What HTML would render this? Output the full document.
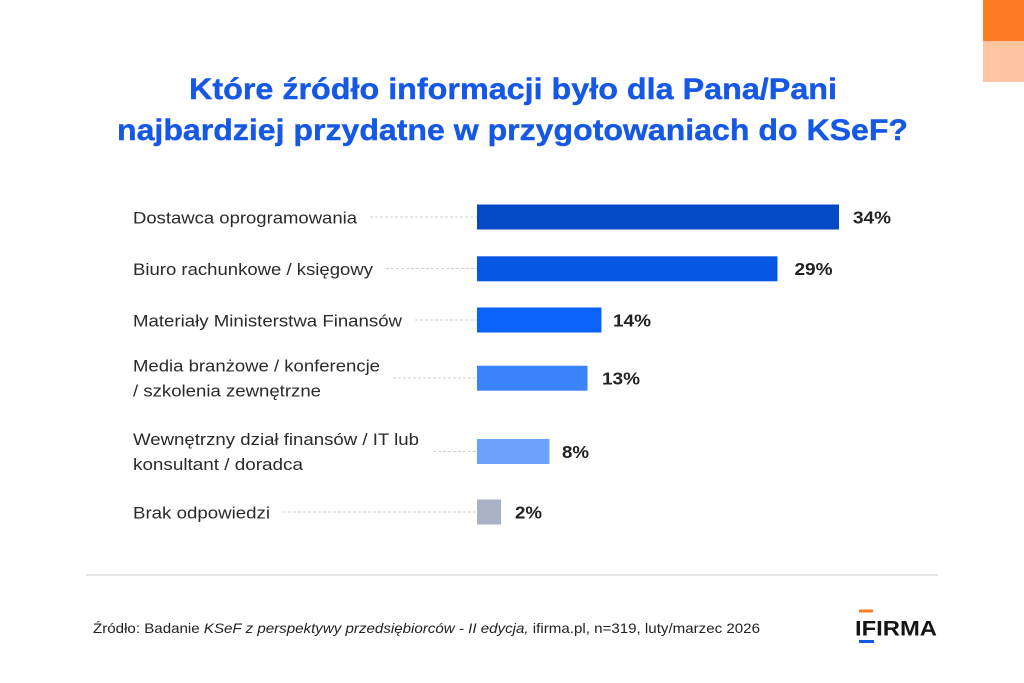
<!DOCTYPE html>
<html>
<head>
<meta charset="utf-8">
<style>
  html, body { margin:0; padding:0; background:#ffffff; }
  svg { display:block; }
  .lbl { font-family:"Liberation Sans","DejaVu Sans",sans-serif; font-size:16.8px; fill:#2a2a2a; }
  .val { font-family:"Liberation Sans","DejaVu Sans",sans-serif; font-size:17.5px; font-weight:bold; fill:#222; }
  .ttl { font-family:"Liberation Sans","DejaVu Sans",sans-serif; font-size:29.5px; font-weight:bold; fill:#1658e6; stroke:#1658e6; stroke-width:0.4; }
  .ftr { font-family:"Liberation Sans","DejaVu Sans",sans-serif; font-size:14px; fill:#222; }
  .dot { stroke:#d0d0d0; stroke-width:1; stroke-dasharray:3 2; }
</style>
</head>
<body>
<svg width="1024" height="683" viewBox="0 0 1024 683" xmlns="http://www.w3.org/2000/svg">
  <rect x="0" y="0" width="1024" height="683" fill="#ffffff"/>

  <!-- corner accents -->
  <rect x="983" y="0" width="41" height="41" fill="#ff7b26"/>
  <rect x="983" y="41" width="41" height="41" fill="#ffc4a0"/>

  <!-- title -->
  <text class="ttl" x="189" y="99" textLength="648" lengthAdjust="spacingAndGlyphs">Które źródło informacji było dla Pana/Pani</text>
  <text class="ttl" x="117" y="140" textLength="791" lengthAdjust="spacingAndGlyphs">najbardziej przydatne w przygotowaniach do KSeF?</text>

  <!-- row 1 -->
  <text class="lbl" x="133" y="223.5" textLength="224" lengthAdjust="spacingAndGlyphs">Dostawca oprogramowania</text>
  <line class="dot" x1="370" y1="217" x2="477" y2="217"/>
  <rect x="477" y="204.5" width="362" height="25" fill="#0449c5"/>
  <text class="val" x="853" y="223.5" textLength="38" lengthAdjust="spacingAndGlyphs">34%</text>

  <!-- row 2 -->
  <text class="lbl" x="133" y="275" textLength="240" lengthAdjust="spacingAndGlyphs">Biuro rachunkowe / księgowy</text>
  <line class="dot" x1="386" y1="268.5" x2="477" y2="268.5"/>
  <rect x="477" y="256.3" width="300.5" height="25" fill="#0557e3"/>
  <text class="val" x="794.5" y="275" textLength="38" lengthAdjust="spacingAndGlyphs">29%</text>

  <!-- row 3 -->
  <text class="lbl" x="133" y="326.5" textLength="269" lengthAdjust="spacingAndGlyphs">Materiały Ministerstwa Finansów</text>
  <line class="dot" x1="415" y1="320" x2="477" y2="320"/>
  <rect x="477" y="307.5" width="124.5" height="25" fill="#0a62fb"/>
  <text class="val" x="613" y="326.5" textLength="38" lengthAdjust="spacingAndGlyphs">14%</text>

  <!-- row 4 -->
  <text class="lbl" x="133" y="371.5" textLength="247" lengthAdjust="spacingAndGlyphs">Media branżowe / konferencje</text>
  <text class="lbl" x="133" y="396.5" textLength="188" lengthAdjust="spacingAndGlyphs">/ szkolenia zewnętrzne</text>
  <line class="dot" x1="393" y1="378" x2="477" y2="378"/>
  <rect x="477" y="365.7" width="110.5" height="25" fill="#3b83fa"/>
  <text class="val" x="602" y="384.5" textLength="38" lengthAdjust="spacingAndGlyphs">13%</text>

  <!-- row 5 -->
  <text class="lbl" x="133" y="445" textLength="286" lengthAdjust="spacingAndGlyphs">Wewnętrzny dział finansów / IT lub</text>
  <text class="lbl" x="133" y="470" textLength="170" lengthAdjust="spacingAndGlyphs">konsultant / doradca</text>
  <line class="dot" x1="433" y1="451.5" x2="477" y2="451.5"/>
  <rect x="477" y="439" width="72.5" height="25" fill="#6ba2fb"/>
  <text class="val" x="562" y="458" textLength="27" lengthAdjust="spacingAndGlyphs">8%</text>

  <!-- row 6 -->
  <text class="lbl" x="133" y="518.5" textLength="137" lengthAdjust="spacingAndGlyphs">Brak odpowiedzi</text>
  <line class="dot" x1="283" y1="512" x2="477" y2="512"/>
  <rect x="477" y="499.5" width="24" height="25" fill="#a9b1c5"/>
  <text class="val" x="515" y="518.5" textLength="27" lengthAdjust="spacingAndGlyphs">2%</text>

  <!-- divider -->
  <rect x="86" y="574" width="852" height="2" fill="#e6e6e6"/>

  <!-- footer -->
  <text class="ftr" x="93" y="633" textLength="667" lengthAdjust="spacingAndGlyphs">Źródło: Badanie <tspan font-style="italic">KSeF z perspektywy przedsiębiorców - II edycja,</tspan> ifirma.pl, n=319, luty/marzec 2026</text>

  <!-- logo -->
  <rect x="859" y="609.5" width="14" height="3" fill="#ff7b26"/>
  <text x="855" y="635.5" textLength="82" lengthAdjust="spacingAndGlyphs" font-family="Liberation Sans, DejaVu Sans, sans-serif" font-size="21" font-weight="bold" fill="#151515">IFIRMA</text>
  <rect x="859" y="640" width="15" height="3" fill="#1658e6"/>
</svg>
</body>
</html>
